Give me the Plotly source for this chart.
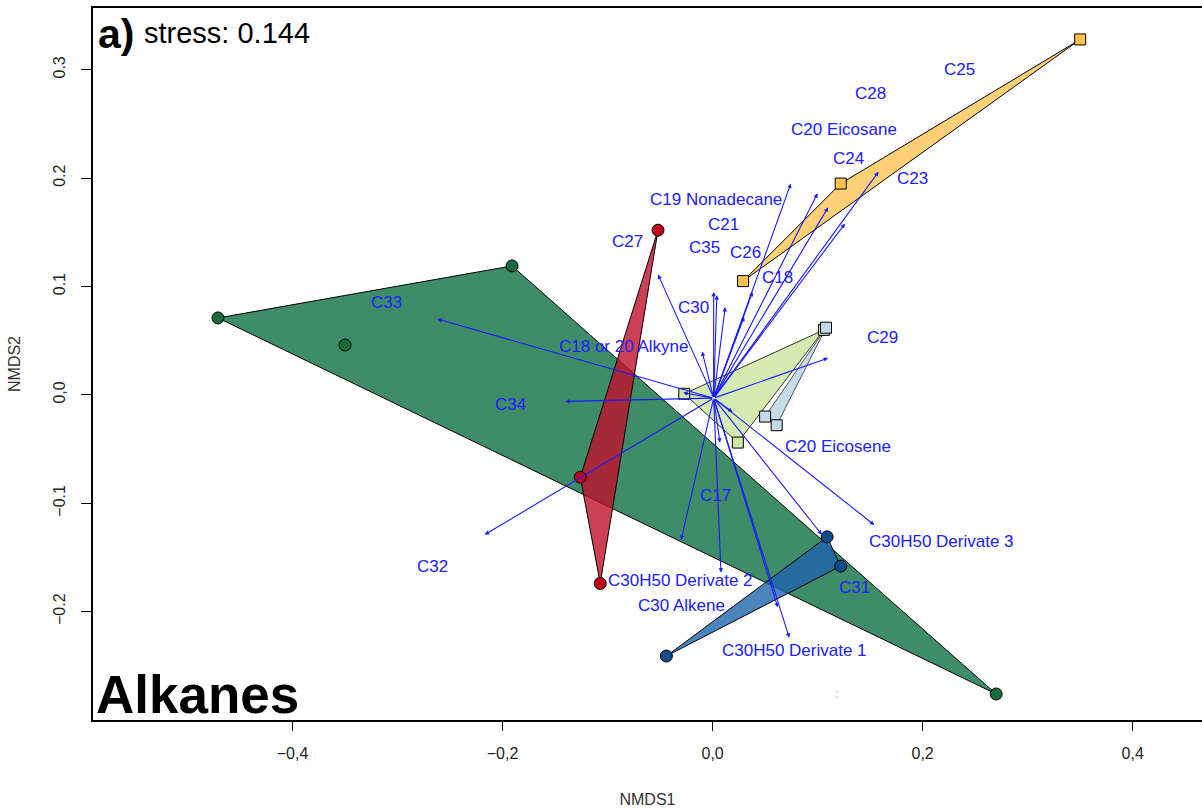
import plotly.graph_objects as go

# ---------------- data ----------------
# site scores (NMDS1, NMDS2) per group
green_x = [-0.471, -0.191, -0.350, 0.270]
green_y = [0.071, 0.119, 0.046, -0.276]
green_hull = [0, 1, 3]

red_x = [-0.052, -0.126, -0.107]
red_y = [0.152, -0.076, -0.174]

blue_x = [0.109, 0.122, -0.044]
blue_y = [-0.131, -0.158, -0.241]

orange_x = [0.350, 0.122, 0.029]
orange_y = [0.328, 0.195, 0.105]

lgreen_x = [-0.027, 0.106, 0.024]
lgreen_y = [0.001, 0.060, -0.044]

lblue_x = [0.108, 0.050, 0.061]
lblue_y = [0.062, -0.020, -0.028]

# envfit arrows (tips), all from origin
origin = (0.001, -0.003)
arrow_x = [0.0745, 0.100, 0.110, 0.158, 0.126, 0.038, 0.030, -0.052, 0.001, 0.004,
           0.012, -0.010, 0.110, -0.262, -0.028, -0.140, -0.217, -0.030, 0.008,
           0.073, 0.062, 0.104, 0.154, 0.007, 0.019]
arrow_y = [0.195, 0.186, 0.173, 0.206, 0.158, 0.095, 0.072, 0.111, 0.095, 0.092,
           0.081, 0.040, 0.034, 0.070, 0.002, -0.006, -0.129, -0.134, -0.164,
           -0.224, -0.196, -0.129, -0.120, -0.044, -0.016]

# compound labels
label_text = ["C25", "C28", "C20 Eicosane", "C24", "C23", "C19 Nonadecane", "C21",
              "C27", "C35", "C26", "C18", "C30", "C33", "C18 or 20 Alkyne", "C29",
              "C34", "C20 Eicosene", "C17", "C30H50 Derivate 3", "C32",
              "C30H50 Derivate 2", "C31", "C30 Alkene", "C30H50 Derivate 1"]
label_x = [0.235, 0.150, 0.125, 0.129, 0.190, 0.003, 0.010, -0.081, -0.008, 0.031,
           0.062, -0.018, -0.311, -0.085, 0.162, -0.192, 0.119, 0.003, 0.218,
           -0.267, -0.031, 0.135, -0.030, 0.078]
label_y = [0.300, 0.278, 0.245, 0.218, 0.200, 0.180, 0.157, 0.142, 0.136, 0.131,
           0.108, 0.081, 0.085, 0.045, 0.053, -0.009, -0.048, -0.093, -0.135,
           -0.158, -0.171, -0.178, -0.194, -0.236]

x_ticks = [-0.4, -0.2, 0.0, 0.2, 0.4]
x_tick_text = ["\u22120,4", "\u22120,2", "0,0", "0,2", "0,4"]
y_ticks = [-0.2, -0.1, 0.0, 0.1, 0.2, 0.3]
y_tick_text = ["\u22120.2", "\u22120.1", "0,0", "0.1", "0.2", "0.3"]

# ---------------- figure ----------------
fig = go.Figure()
FONT = "Liberation Sans, Arial, sans-serif"


def hull(xs, ys, idx, fill, line="black"):
    hx = [xs[i] for i in idx] + [xs[idx[0]]]
    hy = [ys[i] for i in idx] + [ys[idx[0]]]
    fig.add_trace(go.Scatter(x=hx, y=hy, mode="lines", fill="toself",
                             fillcolor=fill, line=dict(color=line, width=1),
                             hoverinfo="skip", showlegend=False))


hull(green_x, green_y, green_hull, "rgba(14,111,66,0.8)")
hull(red_x, red_y, [0, 1, 2], "rgba(191,16,42,0.8)")
hull(blue_x, blue_y, [0, 1, 2], "rgba(30,100,170,0.8)")
hull(lgreen_x, lgreen_y, [0, 1, 2], "rgb(212,234,176)", "#333333")
hull(orange_x, orange_y, [0, 1, 2], "rgb(255,208,118)")
hull(lblue_x, lblue_y, [0, 1, 2], "rgb(197,220,232)", "#555555")


def pts(xs, ys, color, symbol, size):
    fig.add_trace(go.Scatter(x=xs, y=ys, mode="markers",
                             marker=dict(color=color, symbol=symbol, size=size,
                                         line=dict(color="black", width=1)),
                             showlegend=False))


pts(green_x, green_y, "#1a6b3a", "circle", 12)
pts(red_x, red_y, "#c0001a", "circle", 12)
pts(blue_x, blue_y, "#0f4c8a", "circle", 12)
pts(orange_x, orange_y, "#ffc34d", "square", 11)
pts(lgreen_x, lgreen_y, "#cfe6a8", "square", 11)
pts(lblue_x, lblue_y, "#c2d9e6", "square", 11)

annotations = []
for ax_, ay_ in zip(arrow_x, arrow_y):
    annotations.append(dict(x=ax_, y=ay_, ax=origin[0], ay=origin[1],
                            xref="x", yref="y", axref="x", ayref="y",
                            text="", showarrow=True, arrowhead=2, arrowsize=0.8,
                            arrowwidth=1.1, arrowcolor="#1a1aff", standoff=0))

for t, lx, ly in zip(label_text, label_x, label_y):
    annotations.append(dict(x=lx, y=ly, xref="x", yref="y", text=t,
                            showarrow=False,
                            font=dict(family=FONT, size=17, color="#2020ff")))

annotations += [
    dict(xref="paper", yref="paper", x=0.003, y=0.999, xanchor="left", yanchor="top",
         text="<b>a)</b>", showarrow=False,
         font=dict(family=FONT, size=41, color="black")),
    dict(xref="paper", yref="paper", x=0.044, y=0.990, xanchor="left", yanchor="top",
         text="stress: 0.144", showarrow=False,
         font=dict(family=FONT, size=29, color="black")),
    dict(xref="paper", yref="paper", x=0.001, y=-0.008, xanchor="left", yanchor="bottom",
         text="<b>Alkanes</b>", showarrow=False,
         font=dict(family=FONT, size=53, color="black")),
    dict(x=0.118, y=-0.276, xref="x", yref="y", text=":", showarrow=False,
         font=dict(family=FONT, size=12, color="#999999")),
]

fig.update_layout(
    width=1202, height=811,
    margin=dict(l=93, r=0, t=8, b=91),
    plot_bgcolor="white", paper_bgcolor="white",
    showlegend=False,
    annotations=annotations,
    font=dict(family=FONT, color="#222222"),
    xaxis=dict(range=[-0.590, 0.466], showgrid=False, zeroline=False,
               showline=True, mirror=True, linecolor="black", linewidth=1.5,
               ticks="outside", ticklen=9, tickcolor="black", tickwidth=1,
               tickvals=x_ticks, ticktext=x_tick_text, ticklabelstandoff=9,
               tickfont=dict(family=FONT, size=16, color="#222222"),
               title=dict(text="NMDS1", standoff=33,
                          font=dict(family=FONT, size=16, color="#333333"))),
    yaxis=dict(range=[-0.300, 0.357], showgrid=False, zeroline=False,
               showline=True, mirror=False, linecolor="black", linewidth=1.5,
               ticks="outside", ticklen=10, tickcolor="black", tickwidth=1,
               tickvals=y_ticks, ticktext=y_tick_text, tickangle=-90,
               ticklabelstandoff=10,
               tickfont=dict(family=FONT, size=16, color="#222222"),
               title=dict(text="NMDS2", standoff=26,
                          font=dict(family=FONT, size=16, color="#333333"))),
)

fig.write_html("out.html")
